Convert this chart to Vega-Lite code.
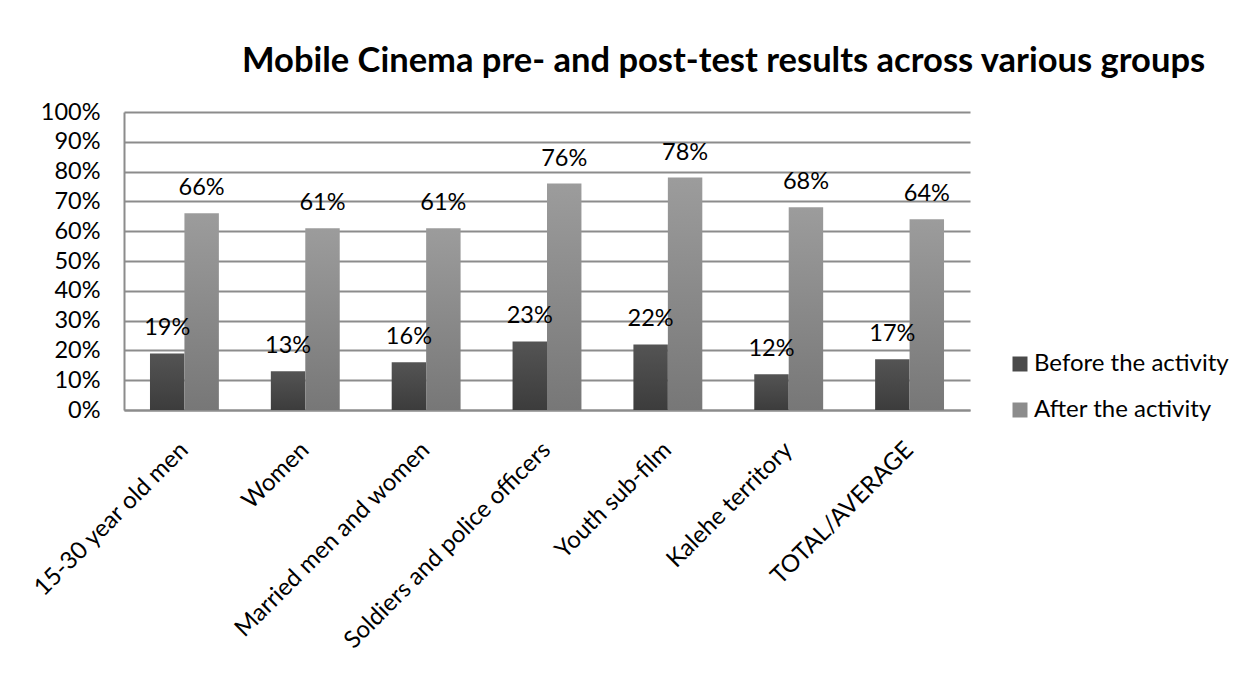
{
  "$schema": "https://vega.github.io/schema/vega-lite/v6.json",
  "width": 846,
  "height": 298,
  "autosize": {"type": "none"},
  "padding": {"left": 124, "top": 112, "right": 278, "bottom": 275},
  "background": "white",
  "title": {
    "text": "Mobile Cinema pre- and post-test results across various groups",
    "anchor": "start",
    "frame": "group",
    "dx": 118,
    "offset": 21,
    "font": "Lato",
    "fontSize": 34.5,
    "fontWeight": "bold",
    "color": "black"
  },
  "config": {
    "view": {"stroke": null},
    "font": "Lato"
  },
  "data": {
    "values": [
      {"group": "15-30 year old men", "series": "Before the activity", "value": 0.19},
      {"group": "15-30 year old men", "series": "After the activity", "value": 0.66},
      {"group": "Women", "series": "Before the activity", "value": 0.13},
      {"group": "Women", "series": "After the activity", "value": 0.61},
      {"group": "Married men and women", "series": "Before the activity", "value": 0.16},
      {"group": "Married men and women", "series": "After the activity", "value": 0.61},
      {"group": "Soldiers and police officers", "series": "Before the activity", "value": 0.23},
      {"group": "Soldiers and police officers", "series": "After the activity", "value": 0.76},
      {"group": "Youth sub-film", "series": "Before the activity", "value": 0.22},
      {"group": "Youth sub-film", "series": "After the activity", "value": 0.78},
      {"group": "Kalehe territory", "series": "Before the activity", "value": 0.12},
      {"group": "Kalehe territory", "series": "After the activity", "value": 0.68},
      {"group": "TOTAL/AVERAGE", "series": "Before the activity", "value": 0.17},
      {"group": "TOTAL/AVERAGE", "series": "After the activity", "value": 0.64}
    ]
  },
  "encoding": {
    "x": {
      "field": "group",
      "type": "nominal",
      "sort": null,
      "scale": {"paddingInner": 0.43, "paddingOuter": 0.215},
      "axis": {
        "title": null,
        "ticks": false,
        "grid": false,
        "domain": true,
        "domainColor": "#8c8c8c",
        "domainWidth": 2,
        "labelAngle": -45,
        "labelAlign": "right",
        "labelBaseline": "middle",
        "labelPadding": 36,
        "labelLimit": 500,
        "labelFont": "Lato",
        "labelFontSize": 24,
        "labelColor": "black"
      }
    },
    "xOffset": {
      "field": "series",
      "type": "nominal",
      "sort": ["Before the activity", "After the activity"],
      "scale": {"domain": ["Before the activity", "After the activity"], "paddingInner": 0, "paddingOuter": 0}
    },
    "y": {
      "field": "value",
      "type": "quantitative",
      "scale": {"domain": [0, 1], "nice": false},
      "axis": {
        "title": null,
        "values": [0, 0.1, 0.2, 0.3, 0.4, 0.5, 0.6, 0.7, 0.8, 0.9, 1],
        "format": ".0%",
        "ticks": false,
        "grid": true,
        "gridColor": "#8c8c8c",
        "gridWidth": 2,
        "domain": true,
        "domainColor": "#8c8c8c",
        "domainWidth": 2,
        "labelPadding": 24,
        "labelFont": "Lato",
        "labelFontSize": 23.5,
        "labelColor": "black"
      }
    }
  },
  "layer": [
    {
      "transform": [{"filter": "datum.series === 'Before the activity'"}],
      "mark": {
        "type": "bar",
        "fill": {
          "gradient": "linear", "x1": 0, "y1": 0, "x2": 0, "y2": 1,
          "stops": [{"offset": 0, "color": "#545454"}, {"offset": 1, "color": "#3c3c3c"}]
        }
      },
      "encoding": {
        "color": {
          "field": "series",
          "type": "nominal",
          "scale": {"domain": ["Before the activity", "After the activity"], "range": ["#4a4a4a", "#8c8c8c"]},
          "legend": {
            "title": null,
            "orient": "none",
            "legendX": 884,
            "legendY": 240,
            "padding": 0,
            "symbolType": "square",
            "symbolSize": 225,
            "symbolStrokeWidth": 0,
            "labelFont": "Lato",
            "labelFontSize": 24,
            "labelColor": "black",
            "labelOffset": 2,
            "labelLimit": 400,
            "rowPadding": 22
          }
        }
      }
    },
    {
      "transform": [{"filter": "datum.series === 'After the activity'"}],
      "mark": {
        "type": "bar",
        "fill": {
          "gradient": "linear", "x1": 0, "y1": 0, "x2": 0, "y2": 1,
          "stops": [{"offset": 0, "color": "#9c9c9c"}, {"offset": 1, "color": "#777777"}]
        }
      },
      "encoding": {
        "color": {"field": "series", "type": "nominal"}
      }
    },
    {
      "mark": {"type": "text", "dy": -25, "baseline": "middle", "align": "center", "font": "Lato", "fontSize": 23.5, "color": "black"},
      "encoding": {
        "text": {"field": "value", "type": "quantitative", "format": ".0%"}
      }
    }
  ]
}
